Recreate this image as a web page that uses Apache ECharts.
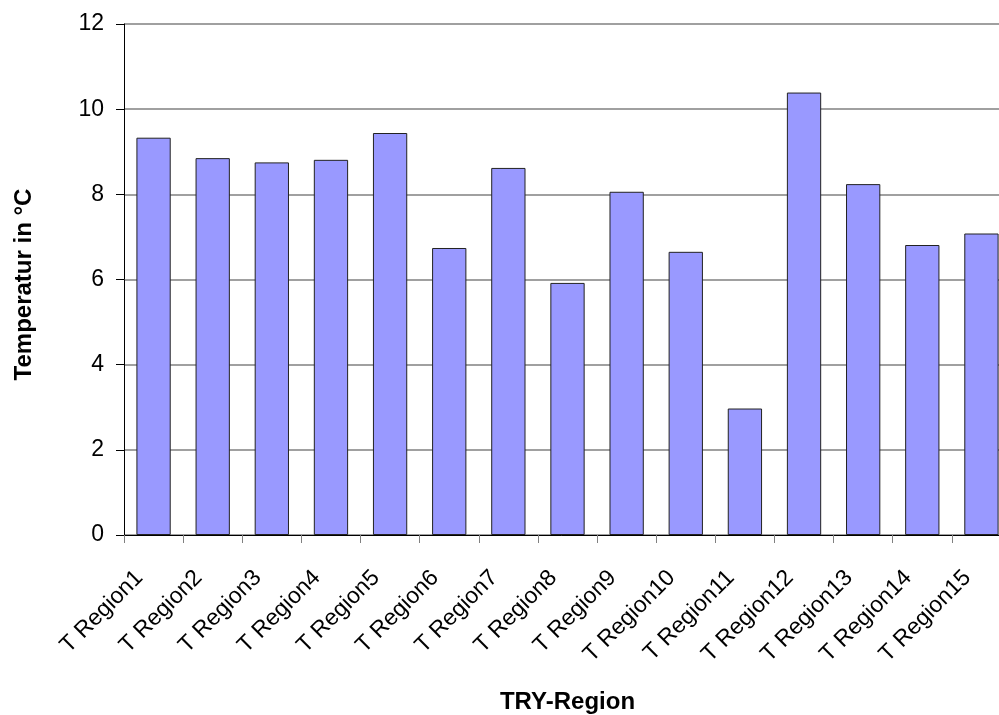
<!DOCTYPE html>
<html>
<head>
<meta charset="utf-8">
<script src="https://cdn.jsdelivr.net/npm/echarts@6/dist/echarts.min.js"></script>
<style>html,body{margin:0;padding:0;background:#fff}#c{width:999px;height:715px}</style>
</head>
<body>
<div id="c"></div>
<script>
var categories = ["T Region1","T Region2","T Region3","T Region4","T Region5","T Region6","T Region7","T Region8","T Region9","T Region10","T Region11","T Region12","T Region13","T Region14","T Region15"];
var temperatures = [9.33, 8.85, 8.75, 8.81, 9.44, 6.74, 8.62, 5.92, 8.06, 6.65, 2.97, 10.39, 8.24, 6.81, 7.08];
var yTicks = { min: 0, max: 12, interval: 2 };
var xName = "TRY-Region";
var yName = "Temperatur in °C";

var chart = echarts.init(document.getElementById('c'), null, {renderer: 'canvas'});
chart.setOption({
  animation: false,
  backgroundColor: '#ffffff',
  grid: { left: 124, top: 24, width: 887, height: 511, containLabel: false, outerBoundsMode: 'none' },
  xAxis: {
    type: 'category',
    data: categories,
    name: xName,
    nameLocation: 'middle',
    nameGap: 155,
    nameTextStyle: { fontFamily: 'Liberation Sans, Arial', fontWeight: 'bold', fontSize: 24, color: '#000' },
    axisLine: { lineStyle: { color: '#000', width: 1 } },
    axisTick: { show: true, inside: false, length: 8, lineStyle: { color: '#808080', width: 1 } },
    axisLabel: { rotate: 45, margin: 25, padding: [0, 20, 0, 0], fontFamily: 'Liberation Sans, Arial', fontSize: 23, color: '#000', interval: 0 }
  },
  yAxis: {
    type: 'value',
    min: yTicks.min, max: yTicks.max, interval: yTicks.interval,
    name: yName,
    nameLocation: 'middle',
    nameGap: 88,
    nameTextStyle: { fontFamily: 'Liberation Sans, Arial', fontWeight: 'bold', fontSize: 24, color: '#000', padding: [0, 10, 0, 0] },
    axisLine: { show: true, lineStyle: { color: '#000', width: 1 } },
    axisTick: { show: true, inside: false, length: 8, lineStyle: { color: '#000', width: 1 } },
    axisLabel: { margin: 20, fontFamily: 'Liberation Sans, Arial', fontSize: 23, color: '#000' },
    splitLine: { show: true, lineStyle: { color: '#808080', width: 1.5 } }
  },
  series: [{
    type: 'bar',
    data: temperatures,
    barCategoryGap: '42%',
    itemStyle: { color: '#9999FF', borderColor: '#222', borderWidth: 1 }
  }]
});
</script>
</body>
</html>
